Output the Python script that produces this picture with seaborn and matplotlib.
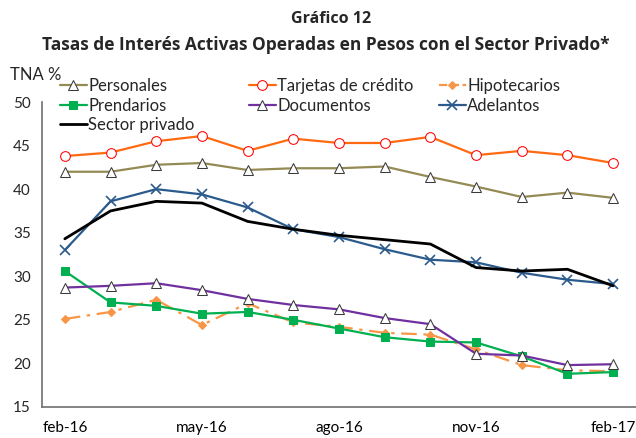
import numpy as np
import pandas as pd
import seaborn as sns
import matplotlib
matplotlib.use("Agg")
import matplotlib.pyplot as plt
from matplotlib.lines import Line2D

# months feb-16 .. feb-17
months = ["feb-16", "mar-16", "abr-16", "may-16", "jun-16", "jul-16", "ago-16",
          "sep-16", "oct-16", "nov-16", "dic-16", "ene-17", "feb-17"]
tick_labels = ["feb-16", "may-16", "ago-16", "nov-16", "feb-17"]

personales = [42.0, 42.0, 42.8, 43.0, 42.2, 42.4, 42.4, 42.6, 41.4, 40.3, 39.1, 39.6, 39.0]
tarjetas = [43.8, 44.2, 45.5, 46.1, 44.4, 45.8, 45.3, 45.3, 46.0, 43.9, 44.4, 43.9, 43.0]
hipotecarios = [25.1, 25.9, 27.3, 24.4, 26.9, 24.7, 24.2, 23.5, 23.3, 21.6, 19.8, 19.2, 19.1]
prendarios = [30.6, 27.0, 26.6, 25.7, 25.9, 25.0, 24.0, 23.0, 22.5, 22.4, 20.8, 18.8, 19.0]
documentos = [28.7, 28.9, 29.2, 28.4, 27.4, 26.7, 26.2, 25.2, 24.5, 21.1, 20.9, 19.8, 19.9]
adelantos = [33.0, 38.6, 40.0, 39.4, 37.9, 35.4, 34.5, 33.1, 31.9, 31.6, 30.4, 29.6, 29.1]
sector_privado = [34.3, 37.5, 38.6, 38.4, 36.3, 35.4, 34.7, 34.2, 33.7, 31.0, 30.6, 30.8, 28.9]

sns.set_style("white")
plt.rcParams["font.family"] = ["Lato", "DejaVu Sans"]

fig = plt.figure(figsize=(6.36, 4.38), dpi=100)
ax = fig.add_axes([0.066, 0.071, 0.934, 0.696])

x = np.arange(len(months))

styles = [
    ("Personales", personales, dict(color="#948A54", marker="^", markersize=7,
                                    markerfacecolor="white", markeredgecolor="#3a3a3a")),
    ("Tarjetas de crédito", tarjetas, dict(color="#FF6A10", marker="o", markersize=7,
                                           markerfacecolor="white", markeredgecolor="#FF0000")),
    ("Hipotecarios", hipotecarios, dict(color="#F79646", marker="D", markersize=4,
                                        markeredgecolor="#F79646", dashes=(7, 3, 1.5, 3))),
    ("Prendarios", prendarios, dict(color="#00B050", marker="s", markersize=5.5,
                                    markeredgecolor="#00B050")),
    ("Documentos", documentos, dict(color="#7030A0", marker="^", markersize=7,
                                    markerfacecolor="white", markeredgecolor="#3a3a3a")),
    ("Adelantos", adelantos, dict(color="#2B5B8C", marker="x", markersize=7,
                                  markeredgecolor="#2B5B8C", markeredgewidth=1.2)),
    ("Sector privado", sector_privado, dict(color="black", lw=2)),
]

handles = {}
for name, vals, kw in styles:
    kw = dict(kw)
    lw = kw.pop("lw", 1.6)
    dashes = kw.pop("dashes", None)
    sns.lineplot(x=x, y=vals, ax=ax, lw=lw, **kw)
    line = ax.lines[-1]
    if dashes is not None:
        line.set_dashes(dashes)
    handles[name] = line

ax.set_xlim(-0.5, 12.5)
ax.set_ylim(15, 50)
ax.set_yticks(range(15, 51, 5))
ax.set_xticks([0, 3, 6, 9, 12])
ax.set_xticklabels(tick_labels)
ax.set_xticks([2.5, 5.5, 8.5, 11.5], minor=True)
ax.tick_params(axis="x", which="major", length=0, labelsize=11, pad=10, colors="black")
ax.tick_params(axis="x", which="minor", direction="in", length=4, width=1, color="#606060")
ax.tick_params(axis="y", direction="in", length=4, width=1, color="#606060",
               labelsize=11, pad=8)
for s in ["top", "right"]:
    ax.spines[s].set_visible(False)
for s in ["left", "bottom"]:
    ax.spines[s].set_color("#707070")
    ax.spines[s].set_linewidth(1.2)

fig.text(0.52, 1 - 19 / 438, "Gráfico 12", ha="center", va="center",
         fontsize=11.5, fontweight="bold", family=["Open Sans", "DejaVu Sans"])
fig.text(0.513, 1 - 45 / 438,
         "Tasas de Interés Activas Operadas en Pesos con el Sector Privado*",
         ha="center", va="center", fontsize=12.5, fontweight="bold",
         family=["Open Sans", "DejaVu Sans"])
fig.text(10 / 636, 1 - 75 / 438, "TNA %", ha="left", va="center", fontsize=12)

cols = [
    (["Personales", "Prendarios", "Sector privado"], 60),
    (["Tarjetas de crédito", "Documentos"], 249),
    (["Hipotecarios", "Adelantos"], 439),
]
for names, xpix in cols:
    hs = []
    for n in names:
        h = handles[n]
        hs.append(Line2D([], [], color=h.get_color(), lw=h.get_linewidth(),
                         linestyle=h.get_linestyle(), marker=h.get_marker(),
                         markersize=h.get_markersize(),
                         markerfacecolor=h.get_markerfacecolor(),
                         markeredgecolor=h.get_markeredgecolor(),
                         markeredgewidth=h.get_markeredgewidth()))
    fig.legend(hs, names, loc="upper left", bbox_to_anchor=(xpix / 636, 1 - 78 / 438),
               frameon=False, fontsize=12, handlelength=1.6, handletextpad=0.1,
               labelspacing=0.22, borderpad=0, borderaxespad=0)

fig.savefig("out.png", dpi=100)
